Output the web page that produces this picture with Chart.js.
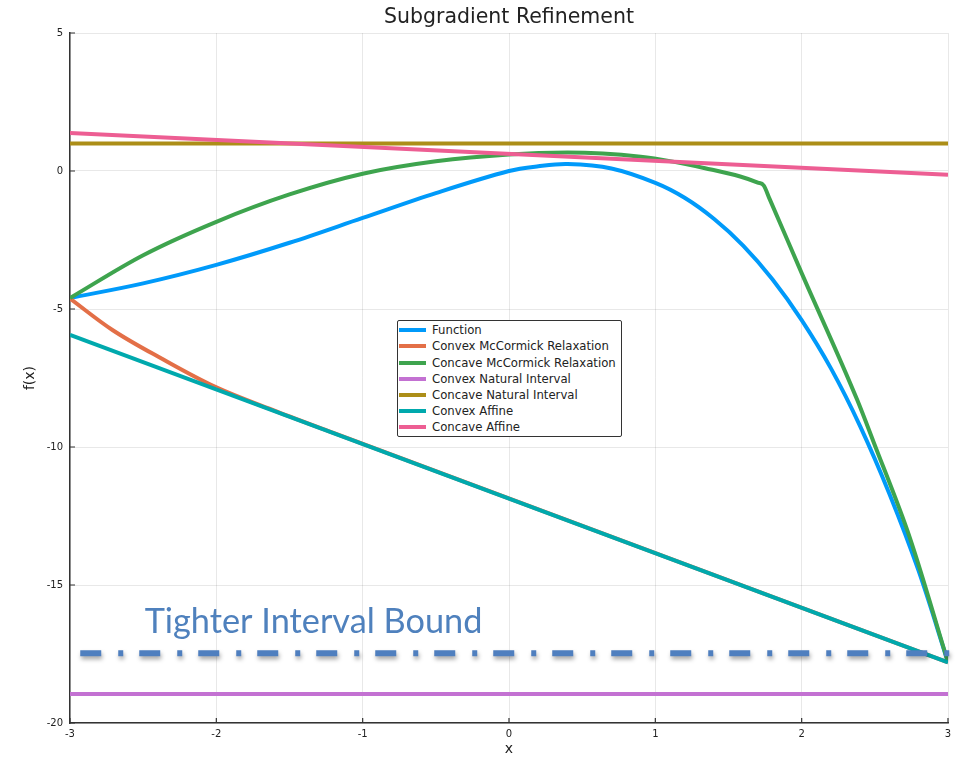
<!DOCTYPE html>
<html>
<head>
<meta charset="utf-8">
<script src="https://cdn.jsdelivr.net/npm/chart.js@4.4.0/dist/chart.umd.min.js"></script>
<style>
body{margin:0;background:#fff;}
#contenedor{position:relative;width:963px;height:758px;}
#leyenda{position:absolute;left:397px;top:320px;width:223px;height:115px;border:1px solid #333;border-radius:2px;background:#fff;font:11.7px "DejaVu Sans",sans-serif;color:#222;}
.item{position:absolute;left:0;width:223px;height:16px;line-height:16px;white-space:nowrap;}
.muestra{position:absolute;left:1px;top:6px;width:27px;height:4px;}
.texto{position:absolute;left:34px;top:0;}
</style>
</head>
<body>
<div id="contenedor">
  <canvas id="grafico" width="963" height="758"></canvas>
  <div id="leyenda"></div>
</div>
<script>
// Datos
const titulo = "Subgradient Refinement";
const etiquetas = ["Function","Convex McCormick Relaxation","Concave McCormick Relaxation","Convex Natural Interval","Concave Natural Interval","Convex Affine","Concave Affine"];
const colores = ["#009afa","#e36f47","#3ea44e","#c371d2","#ac8e18","#00a9ad","#ed5e93"];

const funcionX = [-3,-2.5,-2,-1.5,-1,-0.5,0,0.2,0.4,0.7,1,1.2,1.4,1.6,1.8,2,2.2,2.4,2.6,2.8,3];
const funcionY = [-4.6,-4.07,-3.4,-2.6,-1.7,-0.8,0,0.17,0.25,0.09,-0.43,-0.97,-1.73,-2.7,-3.92,-5.4,-7.15,-9.25,-11.7,-14.5,-17.8];

const convexMcX = [-3,-2.71,-2.39,-2,-1.59,-1.2,3];
const convexMcY = [-4.62,-5.76,-6.75,-7.84,-8.71,-9.49,-17.8];

const concavMcX = [-3,-2.5,-2,-1.5,-1,-0.5,0,0.4,0.9,1.12,1.34,1.58,1.7,1.74,1.78,2,2.38,2.49,2.74,3];
const concavMcY = [-4.6,-3.05,-1.84,-0.85,-0.1,0.35,0.6,0.67,0.52,0.34,0.1,-0.2,-0.42,-0.52,-1.0,-3.7,-8.3,-9.8,-13.3,-17.8];

const convexNatX = [-3,3];
const convexNatY = [-18.95,-18.95];
const concavNatX = [-3,3];
const concavNatY = [1.0,1.0];
const convexAfX = [-3,3];
const convexAfY = [-5.94,-17.8];
const concavAfX = [-3,3];
const concavAfY = [1.38,-0.14];

// Cota de intervalo mas ajustada (anotacion)
const cotaX = [-2.93,3.055];
const cotaY = [-17.47,-17.47];
const cotaTexto = "Tighter Interval Bound";
const cotaTextoPos = {x:-2.49, y:-16.74};

const ticksX = [-3,-2,-1,0,1,2,3];
const ticksY = [-20,-15,-10,-5,0,5];

function puntos(xs, ys){
    return xs.map((x,i)=>({x:x, y:ys[i]}));
}

// modo: 'spline', 'monotone' o 'recta'
const series = [
    {xs:funcionX, ys:funcionY, modo:'spline'},
    {xs:convexMcX, ys:convexMcY, modo:'spline'},
    {xs:concavMcX, ys:concavMcY, modo:'monotone'},
    {xs:convexNatX, ys:convexNatY, modo:'recta'},
    {xs:concavNatX, ys:concavNatY, modo:'recta'},
    {xs:convexAfX, ys:convexAfY, modo:'recta'},
    {xs:concavAfX, ys:concavAfY, modo:'recta'}
];

const datasets = series.map((s,i)=>({
    label: etiquetas[i],
    data: puntos(s.xs, s.ys),
    borderColor: colores[i],
    backgroundColor: colores[i],
    borderWidth: 4,
    pointRadius: 0,
    fill: false,
    cubicInterpolationMode: s.modo === 'monotone' ? 'monotone' : 'default',
    tension: s.modo === 'spline' ? 0.35 : 0,
    order: 20 - i
}));

datasets.push({
    label: cotaTexto,
    data: puntos(cotaX, cotaY),
    borderColor: "#4f7fbf",
    borderWidth: 6,
    borderDash: [21,17,5,16],
    pointRadius: 0,
    fill: false,
    clip: false,
    order: 0
});
const indiceCota = datasets.length - 1;

// Sombra para la linea de la cota
const sombra = {
    id: 'sombra',
    beforeDatasetDraw(chart, args){
        if (args.index === indiceCota) {
            const ctx = chart.ctx;
            ctx.save();
            ctx.shadowColor = 'rgba(0,0,0,0.35)';
            ctx.shadowBlur = 4;
            ctx.shadowOffsetX = 1;
            ctx.shadowOffsetY = 3;
        }
    },
    afterDatasetDraw(chart, args){
        if (args.index === indiceCota) chart.ctx.restore();
    }
};

// Marcas de los ejes hacia adentro + titulo centrado sobre el area
const marcas = {
    id: 'marcas',
    beforeDatasetsDraw(chart){
        const {ctx, chartArea:a, scales:{x, y}} = chart;
        ctx.save();
        ctx.strokeStyle = '#333';
        ctx.lineWidth = 1.2;
        ctx.beginPath();
        ticksX.forEach(v=>{
            const p = x.getPixelForValue(v);
            ctx.moveTo(p, a.bottom);
            ctx.lineTo(p, a.bottom - 5);
        });
        ticksY.forEach(v=>{
            const p = y.getPixelForValue(v);
            ctx.moveTo(a.left, p);
            ctx.lineTo(a.left + 5, p);
        });
        ctx.stroke();
        ctx.fillStyle = '#222';
        ctx.font = '20.5px "DejaVu Sans"';
        ctx.textAlign = 'center';
        ctx.textBaseline = 'middle';
        ctx.fillText(titulo, (a.left + a.right) / 2, 18);
        ctx.restore();
    }
};

// Texto de la anotacion
const anotacion = {
    id: 'anotacion',
    afterDatasetsDraw(chart){
        const {ctx, scales:{x, y}} = chart;
        ctx.save();
        ctx.font = '100px Lato';
        const ancho = ctx.measureText(cotaTexto).width;
        const tam = 100 * 338 / ancho;
        ctx.font = tam.toFixed(1) + 'px Lato';
        ctx.fillStyle = '#4f81bd';
        ctx.textBaseline = 'alphabetic';
        ctx.textAlign = 'left';
        ctx.fillText(cotaTexto, x.getPixelForValue(cotaTextoPos.x), y.getPixelForValue(cotaTextoPos.y));
        ctx.restore();
    }
};

const grafico = document.getElementById('grafico');
const myChart = new Chart(grafico, {
    type: 'line',
    data: { datasets: datasets },
    plugins: [sombra, marcas, anotacion],
    options: {
        responsive: false,
        animation: false,
        layout: { padding: {left:0, right:15, top:33, bottom:0} },
        plugins: {
            legend: { display: false },
            tooltip: { enabled: false },
            title: { display: false }
        },
        scales: {
            x: {
                type: 'linear',
                min: -3, max: 3,
                afterBuildTicks: s => { s.ticks = ticksX.map(v=>({value:v})); },
                afterFit: s => { s.height = 35; },
                ticks: { color:'#222', font:{family:'DejaVu Sans', size:10}, padding:5, maxRotation:0 },
                grid: { color:'rgba(0,0,0,0.09)', drawTicks:false },
                border: { color:'#333', width:1.5 },
                title: { display:true, text:'x', color:'#222', font:{family:'DejaVu Sans', size:14}, padding:{top:0, bottom:0} }
            },
            y: {
                type: 'linear',
                min: -20, max: 5,
                afterBuildTicks: s => { s.ticks = ticksY.map(v=>({value:v})); },
                afterFit: s => { s.width = 70; },
                ticks: { color:'#222', font:{family:'DejaVu Sans', size:10}, padding:7 },
                grid: { color:'rgba(0,0,0,0.09)', drawTicks:false },
                border: { color:'#333', width:1.5 },
                title: { display:true, text:'f(x)', color:'#222', font:{family:'DejaVu Sans', size:14}, padding:{top:22, bottom:0} }
            }
        }
    }
});

// Leyenda en HTML
const $leyenda = document.getElementById('leyenda');
etiquetas.forEach((et,i)=>{
    const fila = document.createElement('div');
    fila.className = 'item';
    fila.style.top = (1.3 + i*16.1) + 'px';
    const linea = document.createElement('span');
    linea.className = 'muestra';
    linea.style.background = colores[i];
    const txt = document.createElement('span');
    txt.className = 'texto';
    txt.textContent = et;
    fila.appendChild(linea);
    fila.appendChild(txt);
    $leyenda.appendChild(fila);
});
</script>
</body>
</html>
